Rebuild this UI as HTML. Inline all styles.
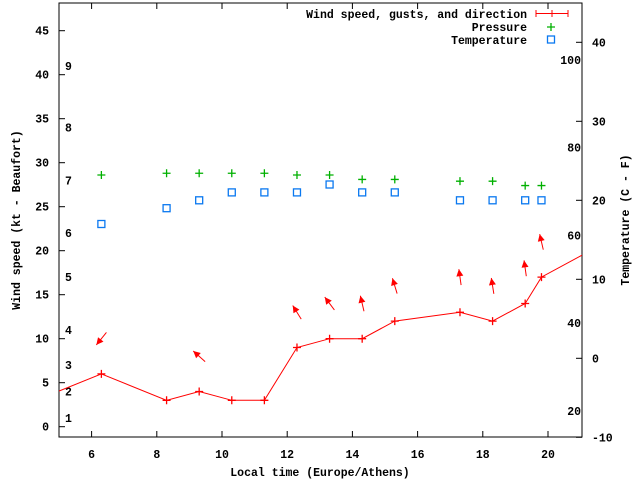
<!DOCTYPE html>
<html><head><meta charset="utf-8"><style>
html,body{margin:0;padding:0;background:#fff;}
svg text{font-family:"Liberation Mono",monospace;font-weight:bold;font-size:11.5px;fill:#000;}
</style></head><body>
<svg id="chart" width="640" height="480" xmlns="http://www.w3.org/2000/svg">
<defs><clipPath id="plotclip"><rect x="59" y="3" width="523" height="434"/></clipPath></defs>
<g id="axes"></g>
<g id="marks" clip-path="url(#plotclip)"></g>
<g id="legend"></g>
</svg>
<script>
const times = [6.3, 8.3, 9.3, 10.3, 11.3, 12.3, 13.3, 14.3, 15.3, 17.3, 18.3, 19.3, 19.8];
const windKt = [6, 3, 4, 3, 3, 9, 10, 10, 12, 13, 12, 14, 17];
const windEdgeTimes = [4.3, 21.3];
const windEdgeKt = [3, 20];
const gustKt = [10, 8, 13, 14, 14, 16, 17, 16, 18, 21];
const gustTimes = [6.3, 9.3, 12.3, 13.3, 14.3, 15.3, 17.3, 18.3, 19.3, 19.8];
const arrowBearing = [219, 312, 328, 323, 347, 343, 352, 351, 352, 347];
const pressureHpa = [1013.6, 1013.8, 1013.8, 1013.8, 1013.8, 1013.6, 1013.6, 1013.1, 1013.1, 1012.9, 1012.9, 1012.4, 1012.4];
const tempC = [17, 19, 20, 21, 21, 21, 22, 21, 21, 20, 20, 20, 20];
const xTicks = [6, 8, 10, 12, 14, 16, 18, 20];
const yTicks = [0, 5, 10, 15, 20, 25, 30, 35, 40, 45];
const beaufortKt = [1, 4, 7, 11, 17, 22, 28, 34, 41];
const beaufortLabels = ["1","2","3","4","5","6","7","8","9"];
const tempTicks = [-10, 0, 10, 20, 30, 40];
const fTicks = [20, 40, 60, 80, 100];

const NS = "http://www.w3.org/2000/svg";
const L = 59, R = 582, T = 3, B = 437;
const xS = t => L + (t - 5) * 32.6;
const yS = k => 426.7 - k * 8.8;
const yC = c => 42.3 + (40 - c) * 7.9;
const yP = p => yS(p - 985);
function mk(parent, tag, attrs, text) {
  const e = document.createElementNS(NS, tag);
  for (const k in attrs) e.setAttribute(k, attrs[k]);
  if (text !== undefined) e.textContent = text;
  parent.appendChild(e);
  return e;
}
const ax = document.getElementById('axes');
const mg = document.getElementById('marks');
const lg = document.getElementById('legend');

let e = mk(ax, 'rect', {x: L, y: T, width: R - L, height: B - T, fill: 'none', stroke: '#000', 'stroke-width': 1});



xTicks.forEach(t => {
  const x = xS(t);
  mk(ax, 'line', {x1: x, y1: B, x2: x, y2: B - 6, stroke: '#000'});
  mk(ax, 'line', {x1: x, y1: T, x2: x, y2: T + 6, stroke: '#000'});
  const tx = mk(ax, 'text', {x: x, y: B + 21, 'text-anchor': 'middle'}, String(t));
  
  
});
yTicks.forEach(v => {
  const y = yS(v);
  mk(ax, 'line', {x1: L, y1: y, x2: L + 6, y2: y, stroke: '#000'});
  const tx = mk(ax, 'text', {x: L - 10, y: y + 4, 'text-anchor': 'end'}, String(v));
  
  
});
beaufortKt.forEach((k, i) => {
  const tx = mk(ax, 'text', {x: 65, y: yS(k) + 4}, beaufortLabels[i]);
  
  
});
tempTicks.forEach(c => {
  const y = yC(c);
  mk(ax, 'line', {x1: R, y1: y, x2: R - 6, y2: y, stroke: '#000'});
  const tx = mk(ax, 'text', {x: R + 10, y: y + 4}, String(c));
  
  
});
fTicks.forEach(f => {
  const y = yC((f - 32) * 5 / 9);
  const tx = mk(ax, 'text', {x: R - 1, y: y + 4, 'text-anchor': 'end'}, String(f));
  
  
});
e = mk(ax, 'text', {x: 320, y: 476, 'text-anchor': 'middle'}, 'Local time (Europe/Athens)');


e = mk(ax, 'text', {x: 0, y: 0, 'text-anchor': 'middle', transform: 'translate(20,220) rotate(-90)'}, 'Wind speed (kt - Beaufort)');


e = mk(ax, 'text', {x: 0, y: 0, 'text-anchor': 'middle', transform: 'translate(629,220) rotate(-90)'}, 'Temperature (C - F)');



const allT = [windEdgeTimes[0]].concat(times, [windEdgeTimes[1]]);
const allK = [windEdgeKt[0]].concat(windKt, [windEdgeKt[1]]);
e = mk(mg, 'polyline', {points: allT.map((t, i) => xS(t) + ',' + yS(allK[i])).join(' '), fill: 'none', stroke: '#f00', 'stroke-width': 1});


function plus(g, x, y, col) {
  return mk(g, 'path', {d: `M${x - 4},${y}H${x + 4}M${x},${y - 4}V${y + 4}`, stroke: col, 'stroke-width': 1.3, fill: 'none'});
}
times.forEach((t, i) => {
  const p = plus(mg, xS(t), yS(windKt[i]), '#f00');
  
  
});
gustTimes.forEach((t, i) => {
  const cx = xS(t), cy = yS(gustKt[i]);
  const a = arrowBearing[i] * Math.PI / 180;
  const dx = Math.sin(a), dy = -Math.cos(a), h = 8;
  const x1 = cx - dx * h, y1 = cy - dy * h, x2 = cx + dx * h, y2 = cy + dy * h;
  const g = mk(mg, 'g', {});
  
  
  mk(g, 'line', {x1: x1, y1: y1, x2: x2, y2: y2, stroke: '#f00', 'stroke-width': 1});
  const px = -dy, py = dx;
  const bx = x2 - dx * 7, by = y2 - dy * 7;
  mk(g, 'polygon', {points: `${x2},${y2} ${bx + px * 3.5},${by + py * 3.5} ${bx - px * 3.5},${by - py * 3.5}`, fill: '#f00'});
});
times.forEach((t, i) => {
  const p = plus(mg, xS(t), yP(pressureHpa[i]), '#00b000');
  
  
});
times.forEach((t, i) => {
  const r = mk(mg, 'rect', {x: xS(t) - 3.5, y: yC(tempC[i]) - 3.5, width: 7, height: 7, fill: 'none', stroke: '#0a78f0', 'stroke-width': 1.3});
  
  
});

e = mk(lg, 'text', {x: 527, y: 18, 'text-anchor': 'end'}, 'Wind speed, gusts, and direction');


e = mk(lg, 'path', {d: 'M536,13.5H568M536,10V17M568,10V17M552,10V17', stroke: '#f00', fill: 'none'});


e = mk(lg, 'text', {x: 527, y: 31, 'text-anchor': 'end'}, 'Pressure');


e = plus(lg, 551, 27, '#00b000');


e = mk(lg, 'text', {x: 527, y: 44, 'text-anchor': 'end'}, 'Temperature');


e = mk(lg, 'rect', {x: 547.5, y: 36, width: 7, height: 7, fill: 'none', stroke: '#0a78f0', 'stroke-width': 1.3});


</script>
</body></html>
